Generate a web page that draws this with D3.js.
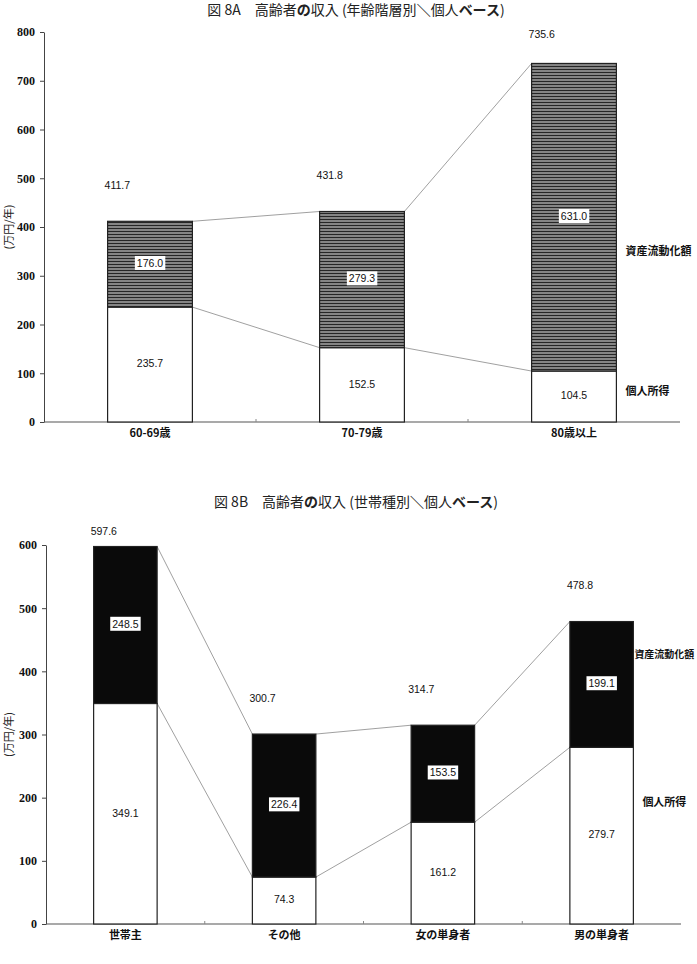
<!DOCTYPE html>
<html>
<head>
<meta charset="utf-8">
<script src="https://cdn.jsdelivr.net/npm/d3@7"></script>
<style>
  body { margin: 0; background: #fff; }
</style>
</head>
<body>
<div id="viz"></div>
<script>
// chart A data
let catsA = ['60-69歳', '70-79歳', '80歳以上']
let incomeA = [235.7, 152.5, 104.5]
let assetA = [176.0, 279.3, 631.0]
let totalA = [411.7, 431.8, 735.6]

// chart B data
let catsB = ['世帯主', 'その他', '女の単身者', '男の単身者']
let incomeB = [349.1, 74.3, 161.2, 279.7]
let assetB = [248.5, 226.4, 153.5, 199.1]
let totalB = [597.6, 300.7, 314.7, 478.8]

let seriesNames = ['個人所得', '資産流動化額']

let svg = d3.select('#viz')
  .append('svg')
  .attr('width', 697)
  .attr('height', 964)

let defs = svg.append('defs')
let hatch = defs.append('pattern')
  .attr('id', 'hatchA')
  .attr('patternUnits', 'userSpaceOnUse')
  .attr('width', 10)
  .attr('height', 3)
hatch.append('rect').attr('width', 10).attr('height', 3).attr('fill', '#858585')
hatch.append('rect').attr('y', 0).attr('width', 10).attr('height', 1).attr('fill', '#262626')

const numFont = '"Liberation Sans", Arial, sans-serif'
const jpFont = '"Noto Sans CJK JP", sans-serif'

function drawTitle(y, parts) {
  let t = svg.append('text')
    .attr('x', 356)
    .attr('y', y)
    .attr('text-anchor', 'middle')
    .style('font-family', jpFont)
    .style('font-size', '14px')
    .attr('fill', '#222')
  parts.forEach((p) => {
    t.append('tspan').text(p[0]).style('font-weight', p[1] ? 'bold' : 'normal')
  })
}

drawTitle(15, [['図 8A　高齢者', 0], ['の', 1], ['収入 (年齢階層別', 0], ['＼', 1], ['個人', 0], ['ベース', 1], [')', 0]])
drawTitle(507, [['図 8B　高齢者', 0], ['の', 1], ['収入 (世帯種別', 0], ['＼', 1], ['個人', 0], ['ベース', 1], [')', 0]])

function drawChart(cfg) {
  let rows = cfg.cats.map((c, i) => ({ cat: c, income: cfg.income[i], asset: cfg.asset[i] }))
  let stacked = d3.stack().keys(['income', 'asset'])(rows)

  let x = d3.scaleBand()
    .domain(cfg.cats)
    .range([cfg.left, cfg.right])
    .paddingInner(0.6)
    .paddingOuter(0.3)
  let y = d3.scaleLinear()
    .domain([0, cfg.max])
    .range([cfg.bottom, cfg.top])
  let bw = x.bandwidth()

  // y axis
  let yAxis = d3.axisLeft(y)
    .tickValues(d3.range(0, cfg.max + 1, 100))
    .tickSize(4)
    .tickSizeOuter(0)
    .tickPadding(5)
  let gy = svg.append('g')
    .attr('transform', `translate(${cfg.left},0)`)
    .call(yAxis)
  gy.select('.domain').attr('stroke', '#444')
  gy.selectAll('.tick line').attr('stroke', '#444')
  gy.selectAll('.tick text')
    .style('font-family', '"Liberation Serif", "Times New Roman", serif')
    .style('font-weight', 'bold')
    .style('font-size', '12px')
    .attr('fill', '#111')

  svg.append('text')
    .attr('transform', `translate(${cfg.titleX},${(cfg.top + cfg.bottom) / 2}) rotate(-90)`)
    .attr('text-anchor', 'middle')
    .attr('dominant-baseline', 'middle')
    .style('font-family', jpFont)
    .style('font-size', '11px')
    .attr('fill', '#222')
    .text('(万円/年)')

  // x axis
  svg.append('line')
    .attr('x1', cfg.left).attr('x2', cfg.right)
    .attr('y1', y(0)).attr('y2', y(0))
    .attr('stroke', '#555')
    .attr('stroke-width', 1.2)
  for (let i = 1; i < cfg.cats.length; i++) {
    let bx = cfg.left + i * x.step()
    svg.append('line')
      .attr('x1', bx).attr('x2', bx)
      .attr('y1', y(0)).attr('y2', y(0) - 3)
      .attr('stroke', '#888')
  }
  svg.selectAll(null)
    .data(cfg.cats)
    .enter()
    .append('text')
    .attr('x', (d) => x(d) + bw / 2)
    .attr('y', y(0) + 15)
    .attr('text-anchor', 'middle')
    .style('font-family', jpFont)
    .style('font-weight', 'bold')
    .style('font-size', '11px')
    .attr('fill', '#111')
    .text((d) => d)

  // series lines between bars
  stacked.forEach((s) => {
    for (let i = 0; i < s.length - 1; i++) {
      svg.append('line')
        .attr('x1', x(cfg.cats[i]) + bw)
        .attr('y1', y(s[i][1]))
        .attr('x2', x(cfg.cats[i + 1]))
        .attr('y2', y(s[i + 1][1]))
        .attr('stroke', '#888')
        .attr('stroke-width', 0.8)
    }
  })

  // bars
  let fills = ['#ffffff', cfg.topFill]
  stacked.forEach((s, k) => {
    svg.selectAll(null)
      .data(s)
      .enter()
      .append('rect')
      .attr('x', (d) => x(d.data.cat))
      .attr('y', (d) => y(d[1]))
      .attr('width', bw)
      .attr('height', (d) => y(d[0]) - y(d[1]))
      .attr('fill', fills[k])
      .attr('stroke', '#222')
      .attr('stroke-width', 1.2)
  })

  // income labels
  stacked[0].forEach((d) => {
    svg.append('text')
      .attr('x', x(d.data.cat) + bw / 2)
      .attr('y', y((d[0] + d[1]) / 2))
      .attr('text-anchor', 'middle')
      .attr('dominant-baseline', 'middle')
      .style('font-family', numFont)
      .style('font-size', '10.5px')
      .attr('fill', '#111')
      .text(d3.format('.1f')(d.data.income))
  })

  // asset labels with white box
  stacked[1].forEach((d) => {
    let g = svg.append('g')
    let t = g.append('text')
      .attr('x', x(d.data.cat) + bw / 2)
      .attr('y', y((d[0] + d[1]) / 2))
      .attr('text-anchor', 'middle')
      .attr('dominant-baseline', 'middle')
      .style('font-family', numFont)
      .style('font-size', '10.5px')
      .attr('fill', '#111')
      .text(d3.format('.1f')(d.data.asset))
    let bb = t.node().getBBox()
    g.insert('rect', 'text')
      .attr('x', bb.x - 2)
      .attr('y', bb.y - 1)
      .attr('width', bb.width + 4)
      .attr('height', bb.height + 2)
      .attr('fill', '#fff')
  })

  // total labels above bars
  cfg.total.forEach((v, i) => {
    svg.append('text')
      .attr('x', x(cfg.cats[i]) - 3)
      .attr('y', Math.max(y(v) - 35, cfg.labelCeil))
      .attr('dominant-baseline', 'middle')
      .style('font-family', numFont)
      .style('font-size', '10.5px')
      .attr('fill', '#111')
      .text(d3.format('.1f')(v))
  })

  // series names right of last bar
  let lastX = x(cfg.cats[cfg.cats.length - 1]) + bw
  seriesNames.forEach((n, k) => {
    svg.append('text')
      .attr('x', lastX + cfg.nameDx[k])
      .attr('y', y(cfg.nameAt[k]))
      .attr('dominant-baseline', 'middle')
      .style('font-family', jpFont)
      .style('font-weight', 'bold')
      .style('font-size', cfg.nameSize[k])
      .attr('fill', '#111')
      .text(n)
  })
}

drawChart({
  cats: catsA, income: incomeA, asset: assetA, total: totalA,
  left: 44, right: 680, top: 32, bottom: 422, max: 800,
  titleX: 10, topFill: 'url(#hatchA)', labelCeil: 35,
  nameAt: [62, 349], nameDx: [9, 9], nameSize: ['11px', '11px']
})

drawChart({
  cats: catsB, income: incomeB, asset: assetB, total: totalB,
  left: 46, right: 681, top: 545, bottom: 924, max: 600,
  titleX: 10, topFill: '#0a0a0a', labelCeil: 532,
  nameAt: [192, 426], nameDx: [9, 1], nameSize: ['11px', '10px']
})
</script>
</body>
</html>
